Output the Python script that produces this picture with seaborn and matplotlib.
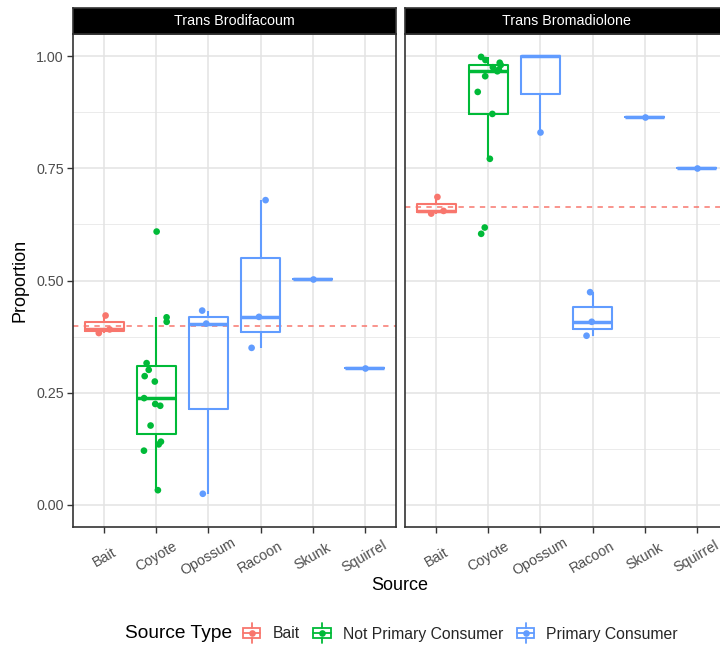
import numpy as np
import pandas as pd
import seaborn as sns
import matplotlib
matplotlib.use("Agg")
import matplotlib.pyplot as plt
from matplotlib.patches import Rectangle
from matplotlib.lines import Line2D
from matplotlib.legend_handler import HandlerBase

# ---- data -------------------------------------------------------------
sources = ["Bait", "Coyote", "Opossum", "Racoon", "Skunk", "Squirrel"]
source_types = ["Bait", "Not Primary Consumer", "Primary Consumer"]
type_of_source = {
    "Bait": "Bait",
    "Coyote": "Not Primary Consumer",
    "Opossum": "Primary Consumer",
    "Racoon": "Primary Consumer",
    "Skunk": "Primary Consumer",
    "Squirrel": "Primary Consumer",
}
compounds = ["Trans Brodifacoum", "Trans Bromadiolone"]

brodifacoum = {
    "Bait": [0.422, 0.391, 0.383],
    "Coyote": [0.609, 0.418, 0.408, 0.316, 0.301, 0.287, 0.275, 0.238,
               0.225, 0.221, 0.177, 0.141, 0.135, 0.121, 0.033],
    "Opossum": [0.433, 0.404, 0.025],
    "Racoon": [0.679, 0.419, 0.350],
    "Skunk": [0.503],
    "Squirrel": [0.306],
}
bromadiolone = {
    "Bait": [0.686, 0.655, 0.649],
    "Coyote": [0.998, 0.991, 0.985, 0.980, 0.975, 0.970, 0.966, 0.955,
               0.920, 0.871, 0.771, 0.618, 0.604],
    "Opossum": [1.000, 1.000, 0.830],
    "Racoon": [0.474, 0.408, 0.377],
    "Skunk": [0.864],
    "Squirrel": [0.750],
}

y_ticks = [0.0, 0.25, 0.50, 0.75, 1.00]
y_tick_labels = ["0.00", "0.25", "0.50", "0.75", "1.00"]

rows = []
for compound, table in zip(compounds, [brodifacoum, bromadiolone]):
    for src in sources:
        for v in table[src]:
            rows.append({"Compound": compound, "Source": src,
                         "Source Type": type_of_source[src], "Proportion": v})
df = pd.DataFrame(rows)

palette = dict(zip(source_types, ["#F8766D", "#00BA38", "#619CFF"]))

# ---- styling ----------------------------------------------------------
sns.set_theme(style="white")
plt.rcParams["font.family"] = ["Liberation Sans", "DejaVu Sans"]

W, H = 720, 645
fig = plt.figure(figsize=(W / 100, H / 100), dpi=100)

def fx(px):
    return px / W

def fy(py):
    return 1 - py / H

panel_top, panel_bottom = 34, 527
panel_w = 323
panel_lefts = [73, 405]
tick_size = 10.3
grey20, grey30 = "#333333", "#4D4D4D"

np.random.seed(3)
for i, (compound, left) in enumerate(zip(compounds, panel_lefts)):
    ax = fig.add_axes([fx(left), fy(panel_bottom), fx(panel_w),
                       (panel_bottom - panel_top) / H])
    sub = df[df.Compound == compound]

    # grid lines behind everything
    ax.set_axisbelow(True)
    for yv in [0.125, 0.375, 0.625, 0.875]:
        ax.axhline(yv, color="#EBEBEB", lw=0.7, zorder=0)
    for yv in y_ticks:
        ax.axhline(yv, color="#E3E3E3", lw=1.1, zorder=0)
    for xv in range(len(sources)):
        ax.axvline(xv, color="#E3E3E3", lw=1.1, zorder=0)

    # reference line at the mean of the bait samples
    bait_mean = sub.loc[sub.Source == "Bait", "Proportion"].mean()
    ax.axhline(bait_mean, color=palette["Bait"], lw=1.1,
               linestyle=(0, (3.5, 3.5)), zorder=1)

    sns.boxplot(data=sub, x="Source", y="Proportion", hue="Source Type",
                order=sources, hue_order=source_types, palette=palette,
                fill=False, dodge=False, width=0.75, showcaps=False,
                showfliers=False, linewidth=1.5,
                medianprops={"linewidth": 2.5}, legend=False, ax=ax)

    # points sitting on the 1.0 ceiling are not part of the point layer
    pts = sub[sub.Proportion < 1.0]
    sns.stripplot(data=pts, x="Source", y="Proportion", hue="Source Type",
                  order=sources, hue_order=source_types, palette=palette,
                  jitter=0.25, size=4.8, linewidth=0, dodge=False,
                  legend=False, ax=ax, zorder=3)

    ax.set_xlim(-0.6, len(sources) - 0.4)
    ax.set_ylim(-0.049, 1.049)
    ax.set_xlabel("")
    ax.set_ylabel("")
    ax.set_yticks(y_ticks)
    ax.set_xticks(range(len(sources)))
    ax.set_xticklabels(sources, rotation=30, ha="center", va="center",
                       rotation_mode="anchor", color=grey30,
                       fontsize=tick_size)
    ax.tick_params(axis="x", length=4, width=1.0, color=grey20, pad=17.5,
                   bottom=True)
    if i == 0:
        ax.set_yticklabels(y_tick_labels, color=grey30, fontsize=tick_size)
        ax.tick_params(axis="y", length=4, width=1.0, color=grey20, pad=2.5,
                       left=True)
    else:
        ax.set_yticklabels([])
        ax.tick_params(axis="y", length=0, left=False)
    for sp in ax.spines.values():
        sp.set_color(grey20)
        sp.set_linewidth(1.2)
        sp.set_visible(True)

    # facet strip
    sax = fig.add_axes([fx(left), fy(panel_top), fx(panel_w), 26.5 / H])
    sax.set_facecolor("black")
    sax.set_xticks([])
    sax.set_yticks([])
    for sp in sax.spines.values():
        sp.set_color(grey20)
        sp.set_linewidth(1.2)
    sax.text(0.5, 0.5, compound, color="white", fontsize=tick_size,
             ha="center", va="center", transform=sax.transAxes)

# axis titles
fig.text(fx(20), fy((panel_top + panel_bottom) / 2), "Proportion",
         rotation=90, ha="center", va="center", fontsize=13, color="black")
fig.text(fx(400), fy(586), "Source", ha="center", va="center",
         fontsize=13, color="black")


# legend keys drawn as small boxplot glyphs with a point
class BoxKey(HandlerBase):
    def create_artists(self, legend, orig_handle, xdescent, ydescent,
                       width, height, fontsize, trans):
        c = orig_handle.get_color()
        x0 = -xdescent
        cy = -ydescent + height / 2
        k = 17.0
        bx0, bx1 = x0 + 0.06 * width, x0 + 0.94 * width
        cx = x0 + width / 2
        box = Rectangle((bx0, cy - 0.22 * k), bx1 - bx0, 0.44 * k,
                        facecolor="white", edgecolor=c, lw=1.3,
                        transform=trans)
        med = Line2D([bx0, bx1], [cy, cy], color=c, lw=1.3, transform=trans)
        w1 = Line2D([cx, cx], [cy + 0.22 * k, cy + 0.42 * k], color=c,
                    lw=1.3, transform=trans)
        w2 = Line2D([cx, cx], [cy - 0.22 * k, cy - 0.42 * k], color=c,
                    lw=1.3, transform=trans)
        dot = Line2D([cx], [cy], marker="o", markersize=4.8, color=c,
                     markeredgewidth=0, linestyle="none", transform=trans)
        return [box, med, w1, w2, dot]


handles = [Line2D([], [], color=palette[t]) for t in source_types]
fig.text(fx(125), fy(634), "Source Type", ha="left", va="center",
         fontsize=13.8, color="black")
fig.legend(handles, source_types, handler_map={Line2D: BoxKey()},
           loc="center left", bbox_to_anchor=(fx(242), fy(634)), ncol=3,
           frameon=False, fontsize=11.3, handlelength=1.25,
           handletextpad=0.7, columnspacing=0.8, borderpad=0,
           borderaxespad=0)

fig.savefig("out.png", dpi=100)
